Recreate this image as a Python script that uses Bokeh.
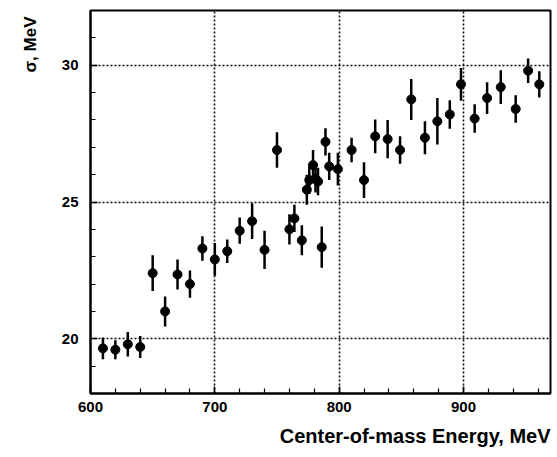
import numpy as np
from bokeh.plotting import figure
from bokeh.models import FixedTicker, Range1d, Title, ColumnDataSource
from bokeh.embed import file_html
from bokeh.resources import INLINE

energy = [610, 620, 630, 640, 650, 660, 670, 680, 690, 700, 710, 720, 730, 740, 750,
          760, 764, 770, 774, 776, 779, 781, 783, 786, 789, 792, 799,
          810, 820, 829, 839, 849, 858, 869, 879, 889, 898,
          909, 919, 930, 942, 952, 961]
sigma = [19.65, 19.6, 19.8, 19.7, 22.4, 21.0, 22.35, 22.0, 23.3, 22.9, 23.2, 23.95, 24.3, 23.25, 26.9,
         24.0, 24.4, 23.6, 25.45, 25.8, 26.35, 25.85, 25.75, 23.35, 27.2, 26.3, 26.2,
         26.9, 25.8, 27.4, 27.3, 26.9, 28.75, 27.35, 27.95, 28.2, 29.3,
         28.05, 28.8, 29.2, 28.4, 29.8, 29.3]
err = [0.4, 0.35, 0.45, 0.4, 0.65, 0.55, 0.55, 0.5, 0.45, 0.6, 0.43, 0.48, 0.65, 0.7, 0.65,
       0.55, 0.5, 0.55, 0.55, 0.5, 0.55, 0.5, 0.5, 0.75, 0.5, 0.5, 0.6,
       0.45, 0.65, 0.62, 0.7, 0.5, 0.75, 0.6, 0.85, 0.52, 0.6,
       0.52, 0.58, 0.62, 0.5, 0.45, 0.48]

x_ticks = [600, 700, 800, 900]
x_minor = list(range(600, 980, 20))
y_ticks = [20, 25, 30]
y_minor = list(range(18, 33, 1))

x_label = "Center-of-mass Energy, MeV"
y_label = "σ, MeV"

FONT = "Liberation Sans"

p = figure(width=557, height=457, output_backend="svg", toolbar_location=None,
           x_range=Range1d(600, 970), y_range=Range1d(18, 32),
           min_border_left=90, min_border_right=7, min_border_top=10, min_border_bottom=64)
p.background_fill_color = "white"
p.border_fill_color = "white"
p.outline_line_color = "black"
p.outline_line_width = 2

for ax, maj, mnr in ((p.xaxis[0], x_ticks, x_minor), (p.yaxis[0], y_ticks, y_minor)):
    ax.ticker = FixedTicker(ticks=maj, minor_ticks=mnr)
    ax.axis_line_width = 2
    ax.axis_line_color = "black"
    ax.major_tick_in = 7
    ax.major_tick_out = 0
    ax.minor_tick_in = 5
    ax.minor_tick_out = 0
    ax.major_tick_line_width = 1.5
    ax.minor_tick_line_width = 1.2
    ax.major_tick_line_color = "black"
    ax.minor_tick_line_color = "black"
    ax.major_label_text_font = FONT
    ax.major_label_text_font_style = "bold"
    ax.major_label_text_font_size = "15px"
    ax.major_label_text_color = "black"

p.xaxis.major_label_standoff = 8
p.yaxis.major_label_standoff = 12

p.xgrid.ticker = FixedTicker(ticks=[700, 800, 900])
p.ygrid.ticker = FixedTicker(ticks=y_ticks)
for g in (p.xgrid, p.ygrid):
    g.grid_line_color = "#111111"
    g.grid_line_width = 1.6
    g.grid_line_dash = "2 2"

src = ColumnDataSource(dict(x=energy, y=sigma,
                            lo=[s - e for s, e in zip(sigma, err)],
                            hi=[s + e for s, e in zip(sigma, err)]))
p.segment(x0="x", y0="lo", x1="x", y1="hi", source=src, line_color="black", line_width=2.5)
p.scatter(x="x", y="y", source=src, size=9, fill_color="black", line_color="black")

p.add_layout(Title(text=x_label, align="right", text_font=FONT, text_font_style="bold",
                   text_font_size="20px", text_color="black", standoff=16, offset=0), "below")
p.add_layout(Title(text=y_label, align="right", text_font=FONT, text_font_style="bold",
                   text_font_size="17px", text_color="black", standoff=37, offset=6), "left")

open("out.html", "w").write(file_html(p, INLINE))
